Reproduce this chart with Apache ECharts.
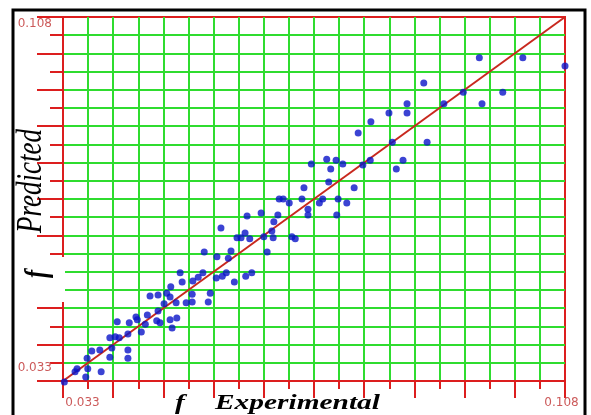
<!DOCTYPE html>
<html>
<head>
<meta charset="utf-8">
<script src="https://cdn.jsdelivr.net/npm/echarts@6/dist/echarts.min.js"></script>
<style>
  html, body { margin: 0; padding: 0; background: #ffffff; }
  #chart { width: 591px; height: 415px; }
</style>
</head>
<body>
<div id="chart"></div>
<script>
// Friction factor f: experimental vs. predicted
const axisRange = [0.033, 0.108];
const tickLabels = ['0.033', '0.108'];
const majorStep = 0.0075;

const experimental = [
  0.1080, 0.0952, 0.1017, 0.0869, 0.0928, 0.0987, 0.0899, 0.0956, 0.0844, 0.0844,
  0.0817, 0.0790, 0.0771, 0.0822, 0.0874, 0.0738, 0.0724, 0.0748, 0.0730, 0.0778,
  0.0789, 0.0838, 0.0828, 0.0701, 0.0727, 0.0765, 0.0690, 0.0653, 0.0659, 0.0687,
  0.0668, 0.0718, 0.0713, 0.0741, 0.0754, 0.0696, 0.0696, 0.0739, 0.0605, 0.0626,
  0.0651, 0.0645, 0.0642, 0.0602, 0.0630, 0.0644, 0.0672, 0.0677, 0.0609, 0.0566,
  0.0590, 0.0596, 0.0635, 0.0541, 0.0560, 0.0581, 0.0577, 0.0505, 0.0508, 0.0532,
  0.0539, 0.0524, 0.0559, 0.0568, 0.0574, 0.0586, 0.0603, 0.0612, 0.0491, 0.0460,
  0.0472, 0.0485, 0.0490, 0.0523, 0.0550, 0.0481, 0.0499, 0.0514, 0.0523, 0.0547,
  0.0472, 0.0456, 0.0500, 0.0439, 0.0441, 0.0411, 0.0429, 0.0453, 0.0470, 0.0475,
  0.0490, 0.0493, 0.0447, 0.0427, 0.0400, 0.0408, 0.0414, 0.0403, 0.0427, 0.0373,
  0.0385, 0.0400, 0.0427, 0.0366, 0.0351, 0.0367, 0.0348, 0.0387, 0.0364, 0.0332
];

const predicted = [
  0.0979, 0.0996, 0.0996, 0.0944, 0.0925, 0.0925, 0.0901, 0.0901, 0.0901, 0.0882,
  0.0882, 0.0864, 0.0841, 0.0822, 0.0822, 0.0785, 0.0787, 0.0777, 0.0767, 0.0775,
  0.0785, 0.0785, 0.0767, 0.0777, 0.0740, 0.0728, 0.0728, 0.0705, 0.0705, 0.0705,
  0.0697, 0.0705, 0.0697, 0.0705, 0.0697, 0.0684, 0.0672, 0.0672, 0.0670, 0.0676,
  0.0672, 0.0658, 0.0639, 0.0635, 0.0627, 0.0625, 0.0627, 0.0623, 0.0623, 0.0645,
  0.0625, 0.0625, 0.0596, 0.0596, 0.0586, 0.0598, 0.0583, 0.0553, 0.0534, 0.0544,
  0.0553, 0.0536, 0.0542, 0.0546, 0.0553, 0.0534, 0.0546, 0.0553, 0.0524, 0.0505,
  0.0507, 0.0511, 0.0503, 0.0509, 0.0511, 0.0489, 0.0491, 0.0491, 0.0493, 0.0493,
  0.0474, 0.0466, 0.0460, 0.0462, 0.0456, 0.0452, 0.0450, 0.0447, 0.0454, 0.0450,
  0.0456, 0.0439, 0.0431, 0.0427, 0.0419, 0.0421, 0.0419, 0.0398, 0.0394, 0.0392,
  0.0394, 0.0379, 0.0377, 0.0377, 0.0355, 0.0355, 0.0349, 0.0349, 0.0338, 0.0328
];

const RED = '#dc1e1e';
const GREEN = '#2fdc2f';
const LABEL_RED = '#cc5a5a';
const SERIF = '"Liberation Serif", "Times New Roman", serif';

const points = experimental.map((x, i) => [x, predicted[i]]);
const parity = [[axisRange[0], axisRange[0]], [axisRange[1], axisRange[1]]];

function near(a, b) { return Math.abs(a - b) < 1e-6; }

const chart = echarts.init(document.getElementById('chart'), null, { renderer: 'canvas' });

const splitLine = { show: true, showMinLine: false, showMaxLine: false, lineStyle: { color: GREEN, width: 2 } };
const minorSplitLine = { show: true, lineStyle: { color: GREEN, width: 2 } };

chart.setOption({
  backgroundColor: '#ffffff',
  animation: false,
  grid: {
    left: 63, top: 17, right: 26, bottom: 34,
    show: true, backgroundColor: '#ffffff',
    borderColor: RED, borderWidth: 2
  },
  xAxis: {
    type: 'value', min: axisRange[0], max: axisRange[1], interval: majorStep,
    axisLine: { show: true, onZero: false, lineStyle: { color: RED, width: 2 } },
    axisTick: { show: true, length: 17, lineStyle: { color: RED, width: 2 } },
    minorTick: { show: true, splitNumber: 2, length: 8, lineStyle: { color: RED, width: 2 } },
    splitLine: splitLine,
    minorSplitLine: minorSplitLine,
    axisLabel: {
      interval: 0, margin: 16, showMinLabel: true, showMaxLabel: true,
      formatter: v => near(v, axisRange[0]) ? '{lo|' + tickLabels[0] + '}'
                   : near(v, axisRange[1]) ? '{hi|' + tickLabels[1] + '}' : '',
      rich: {
        lo: { color: LABEL_RED, fontFamily: 'DejaVu Sans', fontSize: 12, padding: [0, 0, 0, 39] },
        hi: { color: LABEL_RED, fontFamily: 'DejaVu Sans', fontSize: 12, padding: [0, 7, 0, 0] }
      }
    }
  },
  yAxis: {
    type: 'value', min: axisRange[0], max: axisRange[1], interval: majorStep,
    axisLine: { show: true, onZero: false, lineStyle: { color: RED, width: 2 } },
    axisTick: { show: true, length: 26, lineStyle: { color: RED, width: 2 } },
    minorTick: { show: true, splitNumber: 2, length: 13, lineStyle: { color: RED, width: 2 } },
    splitLine: splitLine,
    minorSplitLine: minorSplitLine,
    axisLabel: {
      interval: 0, margin: 11, showMinLabel: true, showMaxLabel: true,
      formatter: v => near(v, axisRange[0]) ? '{lo|' + tickLabels[0] + '}'
                   : near(v, axisRange[1]) ? '{hi|' + tickLabels[1] + '}' : '',
      rich: {
        lo: { color: LABEL_RED, fontFamily: 'DejaVu Sans', fontSize: 12, padding: [0, 0, 26, 0] },
        hi: { color: LABEL_RED, fontFamily: 'DejaVu Sans', fontSize: 12, padding: [13, 0, 0, 0] }
      }
    }
  },
  series: [
    {
      type: 'line', data: parity, symbol: 'none', silent: true, z: 3,
      lineStyle: { color: '#c8281e', width: 2 }
    },
    {
      type: 'scatter', data: points, symbol: 'circle', symbolSize: 7, clip: false, z: 4,
      itemStyle: { color: '#0a14c8' }
    }
  ],
  graphic: [
    // outer frame
    { type: 'rect', z: 100, shape: { x: 13, y: 10, width: 572, height: 420 },
      style: { fill: 'none', stroke: '#000000', lineWidth: 3 } },
    // white patch behind the rotated "f"
    { type: 'rect', z: 100, shape: { x: 15, y: 257, width: 50, height: 45 },
      style: { fill: '#ffffff' } },
    { type: 'text', z: 101, x: 38, y: 274, rotation: Math.PI / 2, scaleY: 1.35,
      style: { text: 'f', font: 'italic bold 24px ' + SERIF, fill: '#000000', align: 'center', verticalAlign: 'middle' } },
    { type: 'text', z: 101, x: 31, y: 181, rotation: Math.PI / 2, scaleY: 1.35,
      style: { text: 'Predicted', font: 'italic 27px ' + SERIF, fill: '#000000', align: 'center', verticalAlign: 'middle' } },
    { type: 'text', z: 101, x: 175, y: 404, scaleX: 1.47,
      style: { text: 'f', font: 'italic bold 20px ' + SERIF, fill: '#000000', align: 'left', verticalAlign: 'middle' } },
    { type: 'text', z: 101, x: 215, y: 404, scaleX: 1.47,
      style: { text: 'Experimental', font: 'italic bold 20px ' + SERIF, fill: '#000000', align: 'left', verticalAlign: 'middle' } }
  ]
});
</script>
</body>
</html>
